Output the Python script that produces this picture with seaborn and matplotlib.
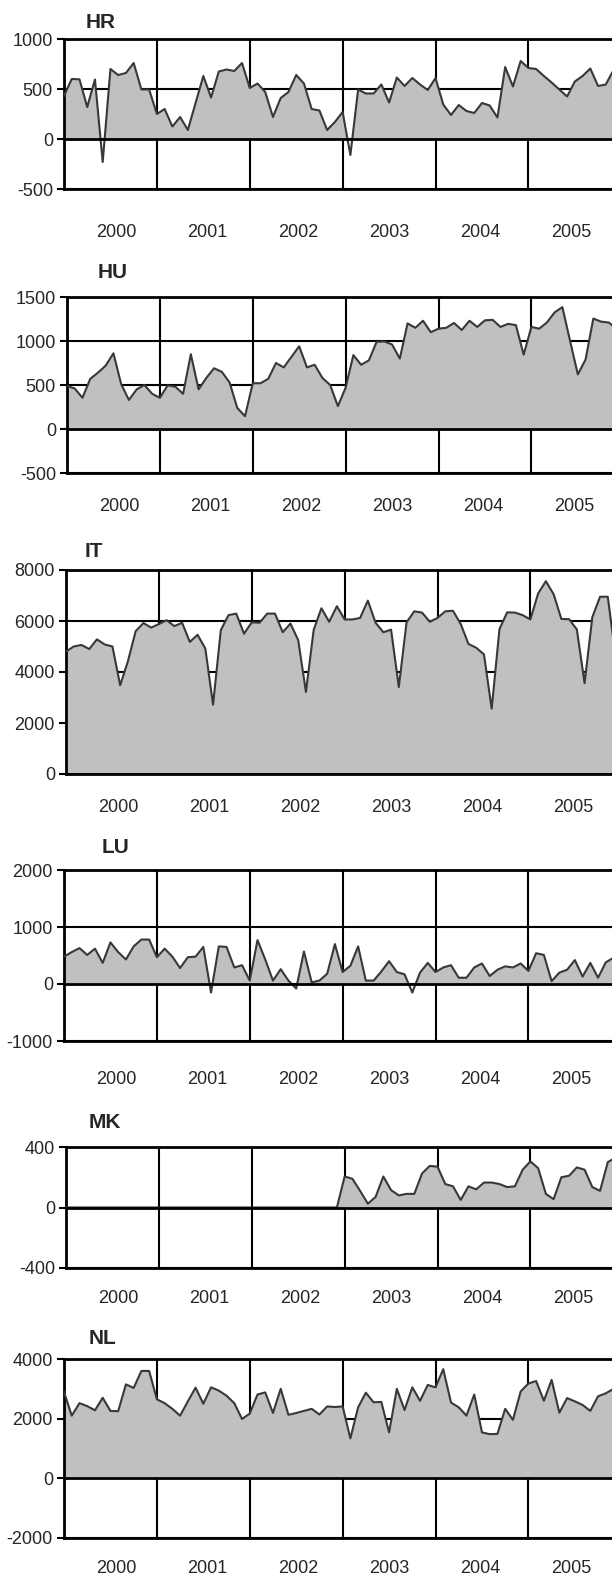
import matplotlib
matplotlib.use("Agg")
import matplotlib.pyplot as plt
import numpy as np
import pandas as pd
import seaborn as sns

# monthly values, Jan 2000 .. Dec 2005
hr = [430, 600, 597, 320, 595, -230, 700, 640, 660, 760, 495, 495,
      250, 300, 125, 220, 90, 360, 630, 415, 675, 695, 680, 760,
      510, 555, 470, 220, 410, 470, 640, 555, 300, 285, 90, 170,
      270, -160, 495, 455, 455, 545, 365, 615, 530, 610, 545, 490,
      610, 345, 240, 340, 280, 260, 360, 335, 215, 720, 525, 780,
      710, 700, 630, 565, 495, 425, 575, 630, 705, 530, 545, 690]
hu = [490, 460, 355, 570, 640, 720, 860, 510, 330, 450, 500, 400,
      355, 495, 480, 400, 850, 450, 580, 690, 650, 530, 240, 145,
      520, 520, 570, 750, 700, 820, 940, 700, 730, 580, 500, 260,
      470, 840, 730, 780, 990, 995, 960, 800, 1200, 1150, 1230, 1100,
      1140, 1150, 1205, 1125, 1230, 1160, 1235, 1240, 1160, 1195, 1180, 845,
      1160, 1140, 1210, 1325, 1385, 1000, 620, 790, 1255, 1220, 1210, 1140]
it = [4800, 5000, 5060, 4900, 5280, 5080, 5000, 3480, 4420, 5600, 5920, 5740,
      5880, 6030, 5800, 5930, 5180, 5460, 4920, 2720, 5640, 6230, 6290, 5500,
      5950, 5930, 6290, 6290, 5560, 5900, 5250, 3220, 5650, 6500, 5970, 6580,
      6060, 6060, 6120, 6800, 5930, 5560, 5660, 3410, 5950, 6380, 6330, 5970,
      6120, 6380, 6400, 5880, 5100, 4950, 4690, 2560, 5680, 6340, 6330, 6230,
      6060, 7080, 7560, 7050, 6080, 6070, 5670, 3560, 6150, 6950, 6950, 4600]
lu = [480, 560, 630, 510, 620, 370, 730, 560, 430, 660, 780, 780,
      470, 620, 480, 280, 470, 480, 650, -150, 660, 650, 290, 330,
      60, 770, 430, 60, 260, 60, -80, 570, 30, 60, 180, 700,
      210, 320, 660, 60, 60, 220, 400, 210, 170, -150, 200, 370,
      210, 290, 330, 110, 110, 290, 360, 140, 250, 310, 290, 360,
      230, 540, 510, 50, 200, 250, 420, 130, 370, 110, 380, 460]
mk = [0] * 36 + [205, 190, 110, 25, 70, 205, 115, 80, 90, 90, 225, 275,
                 270, 155, 140, 50, 140, 120, 165, 165, 155, 135, 140, 250,
                 305, 260, 90, 55, 200, 210, 265, 250, 135, 110, 300, 330]
nl = [2900, 2100, 2520, 2420, 2280, 2700, 2260, 2250, 3150, 3030, 3600, 3600,
      2650, 2520, 2330, 2100, 2580, 3040, 2500, 3050, 2940, 2770, 2520, 1990,
      2170, 2810, 2880, 2190, 3000, 2130, 2190, 2260, 2330, 2140, 2410, 2390,
      2410, 1340, 2380, 2870, 2550, 2560, 1540, 3000, 2290, 3050, 2600, 3130,
      3050, 3660, 2540, 2380, 2100, 2810, 1540, 1480, 1490, 2330, 1960, 2910,
      3180, 3260, 2600, 3300, 2200, 2690, 2580, 2460, 2260, 2750, 2850, 3000]

years = ['2000', '2001', '2002', '2003', '2004', '2005']
countries = ['HR', 'HU', 'IT', 'LU', 'MK', 'NL']
series = [hr, hu, it, lu, mk, nl]
yticks = [[-500, 0, 500, 1000],
          [-500, 0, 500, 1000, 1500],
          [0, 2000, 4000, 6000, 8000],
          [-1000, 0, 1000, 2000],
          [-400, 0, 400],
          [-2000, 0, 2000, 4000]]

# panel geometry in pixels: left, top, bottom, title x, title y, year label y
layout = [(64, 39, 189, 86, 23, 231),
          (67, 297, 473, 98, 272, 505),
          (66, 570, 774, 85, 551, 806),
          (64, 870, 1041, 102, 847, 1078),
          (66, 1147, 1268, 89, 1122, 1297),
          (64, 1359, 1538, 89, 1338, 1567)]

sns.set_style('white')
plt.rcParams['font.family'] = ['Liberation Sans', 'DejaVu Sans']

W, H = 612, 1578
month_px = 7.74
fig = plt.figure(figsize=(W / 100, H / 100), dpi=100)

for name, vals, ticks, (left, top, bottom, tx, ty, ly) in zip(countries, series, yticks, layout):
    df = pd.DataFrame({'month': np.arange(len(vals)), 'value': vals})
    n = len(vals)
    ax = fig.add_axes([left / W, 1 - bottom / H, n * month_px / W, (bottom - top) / H])

    y = df['value'].to_numpy()
    ax.fill_between(df['month'], y, 0, where=y >= 0, interpolate=True,
                    color='#c0c0c0', lw=0, zorder=2)
    sns.lineplot(data=df, x='month', y='value', ax=ax, color='#383838', lw=1.5, zorder=3)
    ax.axhline(0, color='black', lw=2.0, zorder=4)

    ax.set_xlim(0, n)
    ax.set_ylim(ticks[0], ticks[-1])
    ax.set_yticks(ticks)
    ax.set_yticklabels([str(t) for t in ticks], fontsize=13)

    # year boundaries as minor ticks (grid); year names sit a little off the
    # exact year centres, as in the original
    ax.set_xticks(np.arange(12, n + 1, 12), minor=True)
    ax.set_xticks(6.8 + 11.74 * np.arange(len(years)))
    ax.set_xticklabels(years, fontsize=13)
    pad = (ly - bottom - 7) * 0.72
    ax.tick_params(axis='x', which='both', length=0, pad=pad)
    ax.tick_params(axis='y', length=5, width=1.5, pad=3, left=True, color='black')

    ax.set_axisbelow(True)
    ax.grid(True, axis='y', which='major', color='black', lw=1.5)
    ax.grid(True, axis='x', which='minor', color='black', lw=1.5)
    ax.grid(False, axis='x', which='major')

    for s in ['left', 'bottom', 'top']:
        ax.spines[s].set_visible(True)
        ax.spines[s].set_color('black')
        ax.spines[s].set_linewidth(2.0)
    ax.spines['right'].set_visible(False)
    ax.set_xlabel('')
    ax.set_ylabel('')

    fig.text(tx / W, 1 - ty / H, name, fontsize=15, fontweight='bold', ha='left', va='center')

fig.savefig('out.png', dpi=100)
